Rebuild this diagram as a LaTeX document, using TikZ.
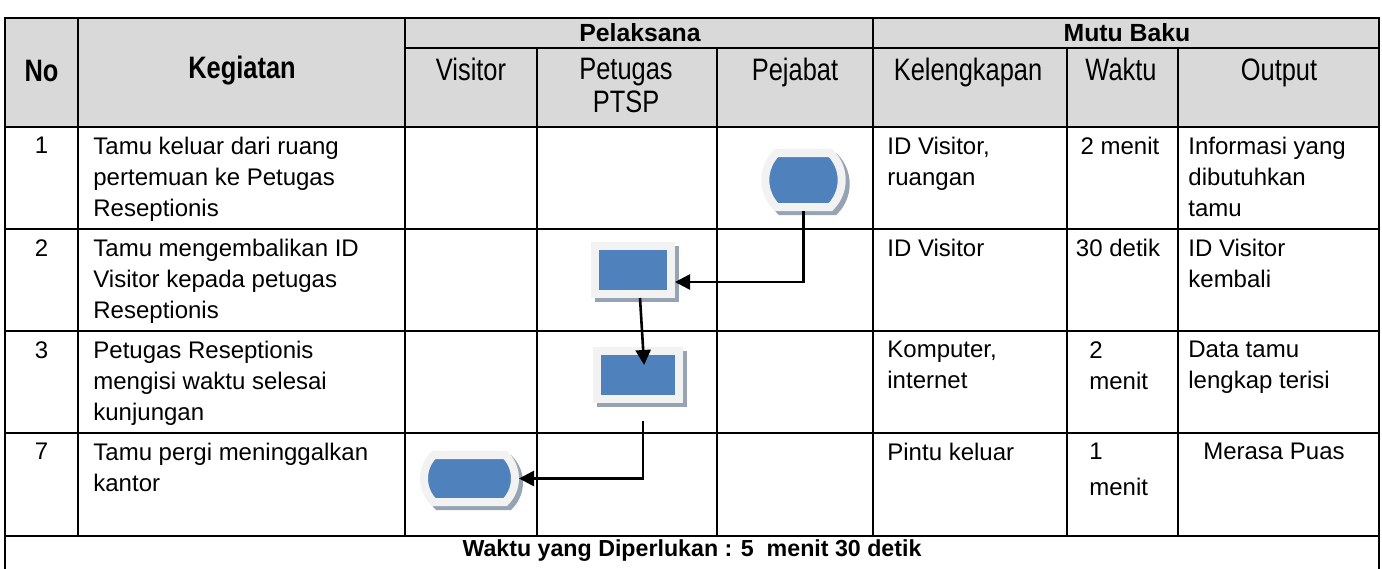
\documentclass[tikz,border=0pt]{standalone}
\usepackage{fontspec}
\setmainfont{Liberation Sans}
\newfontfamily\narrowfont[FakeStretch=0.82]{Liberation Sans}
\usepackage{tikz}
\usetikzlibrary{shapes.misc,arrows.meta,shadows,positioning,calc}
\definecolor{HEADGRAY}{RGB}{217,217,217}
\definecolor{BOXBLUE}{RGB}{79,129,189}
\definecolor{RIMGRAY}{RGB}{242,242,242}
\definecolor{SHADOWGRAY}{RGB}{149,163,179}
\tikzstyle{GRID} = [line width=1.2pt, line cap=rect]
\tikzstyle{CELL} = [anchor=north west, inner sep=0pt, align=left, font=\fontsize{12}{15.5}\selectfont]
\tikzstyle{CELL_C} = [CELL, anchor=north, align=center]
\tikzstyle{HEAD} = [inner sep=0pt, align=center, font=\narrowfont\fontsize{15.5}{16.5}\selectfont]
\tikzstyle{HEAD_B} = [HEAD, font=\narrowfont\fontsize{15.5}{16.5}\selectfont\bfseries]
\tikzstyle{GROUP} = [inner sep=0pt, font=\fontsize{12.4}{14}\selectfont\bfseries]
\tikzstyle{TOTAL} = [inner sep=0pt, font=\fontsize{11.6}{14}\selectfont\bfseries]
\tikzstyle{SHAPE} = [fill=BOXBLUE, draw=RIMGRAY, line width=4pt, inner sep=0pt, general shadow={shadow xshift=2pt, shadow yshift=-2pt, fill=SHADOWGRAY, draw=SHADOWGRAY, line width=4pt}]
\tikzstyle{TERMINAL_1} = [SHAPE, rounded rectangle, rounded rectangle arc length=90]
\tikzstyle{PROCESS_1} = [SHAPE, rectangle, minimum height=24pt]
\tikzstyle{ARROW} = [draw, line width=1.3pt, -{Triangle[length=7.5pt,width=7.5pt]}]

\begin{document}
\begin{tikzpicture}[x=0.5pt, y=-0.5pt]
\useasboundingbox (0,0) rectangle (1382,568);
% Table
\fill [HEADGRAY] (5,18) rectangle (1379,127);
\draw [GRID] (5,18) -- (1379,18);
\draw [GRID] (405,48) -- (1379,48);
\draw [GRID] (5,127) -- (1379,127);
\draw [GRID] (5,229) -- (1379,229);
\draw [GRID] (5,331) -- (1379,331);
\draw [GRID] (5,433) -- (1379,433);
\draw [GRID] (5,536) -- (1379,536);
\draw [GRID] (5,18) -- (5,568);
\draw [GRID] (1379,18) -- (1379,568);
\draw [GRID] (78,18) -- (78,536);
\draw [GRID] (405,18) -- (405,536);
\draw [GRID] (873,18) -- (873,536);
\draw [GRID] (537,48) -- (537,536);
\draw [GRID] (717,48) -- (717,536);
\draw [GRID] (1067,48) -- (1067,536);
\draw [GRID] (1178,48) -- (1178,536);
% Header
\node [HEAD_B] (h_no) at (41.5,71) {No};
\node [HEAD_B] (h_keg) at (242,71) {Kegiatan};
\node [GROUP] (h_pel) at (640,33) {Pelaksana};
\node [GROUP] (h_mutu) at (1127,33) {Mutu Baku};
\node [HEAD, anchor=north] (h_vis) at (471,58) {Visitor};
\node [HEAD, anchor=north] (h_ptsp) at (626,58) {Petugas\\PTSP};
\node [HEAD, anchor=north] (h_pej) at (795,58) {Pejabat};
\node [HEAD, anchor=north] (h_kel) at (968,58) {Kelengkapan};
\node [HEAD, anchor=north] (h_wak) at (1121,58) {Waktu};
\node [HEAD, anchor=north] (h_out) at (1279,58) {Output};
% Rows
\node [CELL_C] (no_1) at (41.5,137) {1};
\node [CELL] (keg_1) at (93,137) {Tamu keluar dari ruang\\pertemuan ke Petugas\\Reseptionis};
\node [CELL] (kel_1) at (887,137) {ID Visitor,\\ruangan};
\node [CELL_C] (wak_1) at (1120,137) {2 menit};
\node [CELL] (out_1) at (1188,137) {Informasi yang\\dibutuhkan\\tamu};
\node [CELL_C] (no_2) at (41.5,239) {2};
\node [CELL] (keg_2) at (93,239) {Tamu mengembalikan ID\\Visitor kepada petugas\\Reseptionis};
\node [CELL] (kel_2) at (887,239) {ID Visitor};
\node [CELL_C] (wak_2) at (1118,239) {30 detik};
\node [CELL] (out_2) at (1188,239) {ID Visitor\\kembali};
\node [CELL_C] (no_3) at (41.5,341) {3};
\node [CELL] (keg_3) at (93,341) {Petugas Reseptionis\\mengisi waktu selesai\\kunjungan};
\node [CELL] (kel_3) at (887,341) {Komputer,\\internet};
\node [CELL] (wak_3) at (1089,341) {2\\menit};
\node [CELL] (out_3) at (1188,341) {Data tamu\\lengkap terisi};
\node [CELL_C] (no_4) at (41.5,443) {7};
\node [CELL] (keg_4) at (93,443) {Tamu pergi meninggalkan\\kantor};
\node [CELL] (kel_4) at (887,443) {Pintu keluar};
\node [CELL, font=\fontsize{12}{18}\selectfont] (wak_4) at (1089,443) {1\\menit};
\node [CELL_C] (out_4) at (1274,443) {Merasa Puas};
\node [TOTAL] (total) at (692,551) {Waktu yang Diperlukan : 5 \ menit 30 detik};
% Place nodes
\node [TERMINAL_1, minimum width=37.5pt, minimum height=27pt] (out_room) at (803.5,180) {};
\node [PROCESS_1, minimum width=38pt] (return_id) at (633,270) {};
\node [PROCESS_1, minimum width=41pt] (fill_time) at (638,375) {};
\node [TERMINAL_1, minimum width=45.5pt, minimum height=23.5pt] (leave) at (469.5,478.5) {};
% LINES and ARROWS
\path [ARROW] (out_room.south) |- ([yshift=-6pt]return_id.east);
\path [ARROW, shorten >=-9pt] ([xshift=3.5pt]return_id.south) -- ([xshift=2.5pt]fill_time.north);
\path [ARROW, shorten <=9pt] ([xshift=2.5pt]fill_time.south) |- (leave.east);
\end{tikzpicture}
\end{document}
